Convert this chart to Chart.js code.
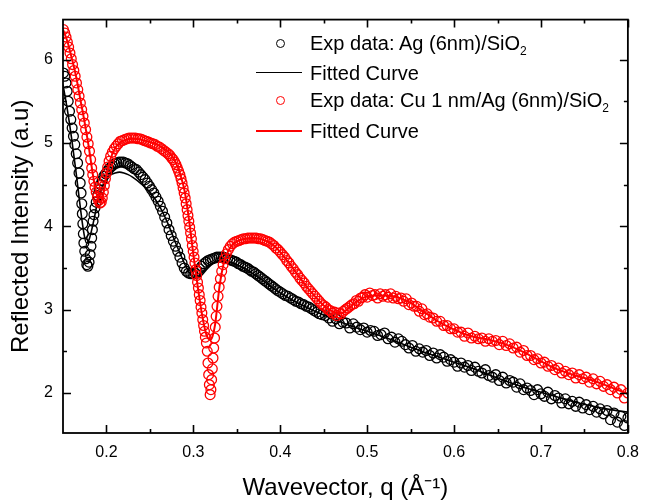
<!DOCTYPE html>
<html>
<head>
<meta charset="utf-8">
<script src="https://cdn.jsdelivr.net/npm/chart.js@4"></script>
<style>
  html,body{margin:0;padding:0;background:#fff;}
  #wrap{position:relative;width:649px;height:502px;}
  canvas{position:absolute;left:0;top:0;}
  .lg{position:absolute;font-family:'Liberation Sans',Arial,sans-serif;font-size:20px;line-height:20px;color:#000;white-space:nowrap;}
  .lg sub{font-size:12px;vertical-align:-5px;line-height:0;}
  .mk{position:absolute;box-sizing:border-box;border-radius:50%;width:9px;height:9px;}
  .ln{position:absolute;height:0;}
</style>
</head>
<body>
<div id="wrap">
  <canvas id="c" width="649" height="502"></canvas>
  <div id="legend"></div>
</div>
<script>
// ---- Data (q in Å^-1, reflected intensity in a.u.) ----
const xTickVals = [0.2, 0.3, 0.4, 0.5, 0.6, 0.7, 0.8];
const xMinorVals = [0.25, 0.35, 0.45, 0.55, 0.65, 0.75];
const yTickVals = [2, 3, 4, 5, 6];
const yMinorVals = [2.5, 3.5, 4.5, 5.5];

const seriesNames = ['Exp data: Ag (6nm)/SiO', 'Fitted Curve', 'Exp data: Cu 1 nm/Ag (6nm)/SiO', 'Fitted Curve'];
const xTitle = 'Wavevector, q (\u00C5\u207B\u00B9)';
const yTitle = 'Reflected Intensity (a.u)';

const agExp = [
[0.1505,5.84],[0.1520,5.80],[0.1535,5.72],[0.1548,5.62],[0.1560,5.50],[0.1575,5.38],[0.1590,5.28],[0.1605,5.18],[0.1620,5.08],[0.1636,4.98],
[0.1652,4.87],[0.1668,4.76],[0.1684,4.64],[0.1698,4.52],[0.1708,4.40],[0.1716,4.27],[0.1722,4.15],[0.1728,4.03],[0.1734,3.91],[0.1740,3.80],
[0.1750,3.70],[0.1762,3.61],[0.1774,3.54],[0.1786,3.52],
[0.1800,3.57],[0.1812,3.66],[0.1822,3.76],[0.1830,3.86],[0.1838,3.96],[0.1846,4.06],[0.1856,4.14],[0.1868,4.22],[0.1882,4.29],[0.1898,4.37],
[0.1915,4.44],[0.1932,4.50],[0.1950,4.55],[0.1970,4.60],[0.1990,4.63],[0.2010,4.66],[0.2030,4.69],[0.2050,4.71],[0.2070,4.73],[0.2095,4.75],
[0.2120,4.76],[0.2145,4.77],[0.2170,4.77],[0.2195,4.77],[0.2220,4.76],[0.2245,4.75],[0.2270,4.73],[0.2295,4.71],[0.2320,4.69],[0.2345,4.68],
[0.2370,4.65],[0.2395,4.62],[0.2420,4.59],[0.2445,4.56],[0.2470,4.52],[0.2495,4.48],[0.2520,4.44],[0.2545,4.40],[0.2570,4.35],[0.2595,4.30],
[0.2620,4.24],[0.2645,4.18],[0.2670,4.11],[0.2695,4.04],[0.2720,3.96],[0.2745,3.89],[0.2770,3.82],[0.2795,3.76],[0.2820,3.70],[0.2845,3.63],
[0.2870,3.56],[0.2895,3.50],[0.2920,3.46],[0.2945,3.44],[0.2970,3.43],[0.2995,3.43],[0.3020,3.44],[0.3045,3.46],[0.3070,3.49],[0.3095,3.52],
[0.3120,3.55],[0.3145,3.57],[0.3170,3.59],[0.3195,3.60],[0.3220,3.61],[0.3245,3.62],[0.3270,3.63],[0.3295,3.63],[0.3320,3.63],[0.3345,3.63],
[0.3370,3.62],[0.3395,3.61],[0.3420,3.60],[0.3445,3.59],[0.3470,3.58],[0.3495,3.57],[0.3520,3.55],[0.3545,3.54],[0.3570,3.52],[0.3595,3.51],
[0.3620,3.50],[0.3645,3.48],[0.3670,3.46],[0.3695,3.45],[0.3720,3.43],[0.3745,3.41],[0.3770,3.39],[0.3795,3.37],[0.3820,3.35],[0.3845,3.33],
[0.3870,3.31],[0.3895,3.29],[0.3920,3.27],[0.3945,3.25],[0.3970,3.23],[0.4000,3.21],[0.4030,3.19],[0.4060,3.17],[0.4090,3.16],[0.4120,3.14],
[0.4150,3.12],[0.4180,3.10],[0.4210,3.09],[0.4240,3.07],[0.4270,3.06],[0.4300,3.04],[0.4330,3.03],[0.4360,3.01],[0.4390,2.99],[0.4420,2.97],
[0.4450,2.95],[0.4480,2.94],
[0.452,2.93],[0.456,2.90],[0.460,2.86],[0.464,2.89],[0.468,2.83],[0.472,2.85],[0.476,2.84],[0.480,2.78],[0.484,2.83],[0.488,2.79],
[0.492,2.76],[0.496,2.78],[0.500,2.73],[0.504,2.75],[0.508,2.74],[0.512,2.69],[0.516,2.70],[0.520,2.72],[0.524,2.65],[0.528,2.67],
[0.532,2.61],[0.536,2.65],[0.540,2.62],[0.544,2.58],[0.548,2.54],[0.552,2.57],[0.556,2.50],[0.560,2.53],[0.564,2.49],[0.568,2.51],
[0.572,2.45],[0.576,2.48],[0.580,2.42],[0.584,2.46],[0.588,2.43],[0.592,2.38],[0.596,2.40],[0.600,2.37],[0.604,2.32],[0.608,2.36],
[0.612,2.31],[0.616,2.33],[0.620,2.27],[0.624,2.31],[0.628,2.26],[0.632,2.24],[0.636,2.28],[0.640,2.21],[0.644,2.19],[0.648,2.22],
[0.652,2.15],[0.656,2.19],[0.660,2.12],[0.664,2.15],[0.668,2.13],[0.672,2.07],[0.676,2.11],[0.680,2.04],[0.684,2.06],[0.688,2.03],
[0.692,1.98],[0.696,2.04],[0.700,1.99],[0.704,1.96],[0.708,2.01],[0.712,1.93],[0.716,1.97],[0.720,1.94],[0.724,1.88],[0.728,1.93],
[0.732,1.87],[0.736,1.90],[0.740,1.84],[0.744,1.89],[0.748,1.82],[0.752,1.86],[0.756,1.80],[0.760,1.84],[0.764,1.77],[0.768,1.81],
[0.772,1.75],[0.776,1.79],[0.780,1.68],[0.784,1.76],[0.788,1.65],[0.792,1.72],[0.796,1.61],[0.800,1.70]
];

const agFit = [
[0.150,5.70],[0.155,5.40],[0.160,5.05],[0.165,4.65],[0.170,4.22],[0.174,3.92],[0.177,3.80],[0.180,3.84],[0.185,4.05],[0.190,4.30],
[0.195,4.47],[0.200,4.57],[0.205,4.62],[0.210,4.64],[0.215,4.65],[0.220,4.64],[0.225,4.62],[0.230,4.59],[0.240,4.51],[0.250,4.41],
[0.260,4.26],[0.270,4.05],[0.280,3.79],[0.290,3.55],[0.295,3.45],[0.300,3.39],[0.305,3.38],[0.310,3.42],[0.315,3.48],[0.320,3.53],
[0.325,3.57],[0.330,3.59],[0.335,3.59],[0.340,3.58],[0.350,3.54],[0.360,3.49],[0.370,3.42],[0.380,3.35],[0.390,3.27],[0.400,3.20],
[0.420,3.08],[0.440,2.98],[0.460,2.89],[0.480,2.81],[0.500,2.74],[0.520,2.67],[0.540,2.59],[0.560,2.51],[0.580,2.44],[0.600,2.37],
[0.620,2.30],[0.640,2.22],[0.660,2.14],[0.680,2.07],[0.700,2.01],[0.720,1.95],[0.740,1.89],[0.760,1.84],[0.780,1.80],[0.800,1.77]
];

const cuExp = [
[0.1505,6.36],[0.1520,6.32],[0.1535,6.27],[0.1550,6.21],[0.1565,6.15],[0.1580,6.08],[0.1595,6.01],[0.1610,5.94],[0.1625,5.87],[0.1640,5.80],
[0.1655,5.72],[0.1670,5.64],[0.1685,5.56],[0.1700,5.48],[0.1715,5.40],[0.1730,5.32],[0.1745,5.24],[0.1760,5.16],[0.1775,5.07],[0.1790,4.99],
[0.1805,4.90],[0.1818,4.80],[0.1830,4.70],[0.1842,4.62],[0.1855,4.54],[0.1868,4.47],[0.1882,4.41],[0.1896,4.35],[0.1910,4.31],[0.1925,4.28],
[0.1940,4.29],[0.1952,4.34],[0.1964,4.41],[0.1976,4.49],[0.1988,4.57],[0.2000,4.64],[0.2014,4.71],[0.2030,4.78],[0.2048,4.84],[0.2068,4.89],
[0.2090,4.93],[0.2112,4.96],[0.2135,4.99],[0.2160,5.02],[0.2185,5.03],[0.2210,5.04],[0.2235,5.05],[0.2260,5.06],[0.2285,5.06],[0.2310,5.06],
[0.2335,5.06],[0.2360,5.05],[0.2385,5.05],[0.2410,5.04],[0.2435,5.03],[0.2460,5.02],[0.2485,5.01],[0.2510,5.00],[0.2535,4.99],[0.2560,4.98],
[0.2585,4.96],[0.2610,4.95],[0.2635,4.93],[0.2660,4.91],[0.2685,4.89],[0.2710,4.87],[0.2730,4.85],[0.2750,4.82],[0.2768,4.80],[0.2785,4.77],
[0.2800,4.74],[0.2815,4.70],[0.2830,4.66],[0.2845,4.62],[0.2858,4.57],[0.2870,4.52],[0.2882,4.46],[0.2894,4.40],[0.2906,4.34],[0.2917,4.27],
[0.2928,4.20],[0.2938,4.13],[0.2948,4.06],[0.2958,3.99],[0.2968,3.92],[0.2978,3.85],[0.2988,3.77],[0.2998,3.70],[0.3008,3.63],[0.3018,3.56],
[0.3028,3.48],[0.3038,3.41],[0.3048,3.33],[0.3058,3.26],[0.3068,3.18],[0.3078,3.11],[0.3088,3.03],[0.3098,2.96],[0.3108,2.88],[0.3118,2.81],
[0.3128,2.74],[0.3138,2.67],[0.3150,2.60],[0.3160,2.50],[0.3168,2.36],[0.3176,2.22],[0.3184,2.10],[0.3193,1.98],[0.3202,2.04],[0.3210,2.16],
[0.3218,2.29],[0.3226,2.42],[0.3234,2.54],[0.3244,2.66],[0.3252,2.79],[0.3262,2.92],[0.3272,3.04],[0.3284,3.16],[0.3297,3.27],[0.3311,3.37],
[0.3326,3.46],[0.3342,3.54],[0.3360,3.61],[0.3380,3.67],[0.3402,3.72],[0.3425,3.76],[0.3450,3.79],[0.3475,3.81],[0.3500,3.82],[0.3525,3.83],
[0.3550,3.84],[0.3575,3.85],[0.3600,3.85],[0.3625,3.86],[0.3650,3.86],[0.3675,3.86],[0.3700,3.86],[0.3725,3.86],[0.3750,3.85],[0.3775,3.85],
[0.3800,3.84],[0.3825,3.83],[0.3850,3.82],[0.3875,3.81],[0.3900,3.79],[0.3925,3.77],[0.3950,3.74],[0.3975,3.72],[0.4000,3.69],[0.4025,3.66],
[0.4050,3.63],[0.4075,3.59],[0.4100,3.56],[0.4125,3.52],[0.4150,3.49],[0.4175,3.45],[0.4200,3.42],[0.4225,3.38],[0.4250,3.35],[0.4275,3.32],
[0.4300,3.28],[0.4325,3.25],[0.4350,3.22],[0.4375,3.19],[0.4400,3.16],[0.4425,3.13],[0.4450,3.10],[0.4475,3.07],[0.4500,3.05],
[0.4525,3.03],[0.4550,3.00],[0.4575,2.99],[0.4600,2.96],[0.4625,2.97],[0.4650,2.93],[0.4675,2.96],[0.4700,2.95],[0.4725,2.98],[0.4750,3.00],
[0.4775,3.02],[0.4800,3.04],[0.4825,3.06],[0.4850,3.07],[0.4875,3.11],[0.4900,3.10],[0.4925,3.14],[0.4950,3.15],[0.4975,3.18],[0.5000,3.15],
[0.5030,3.20],[0.5060,3.17],[0.5090,3.18],[0.5120,3.14],[0.5150,3.19],[0.5180,3.16],[0.5210,3.18],[0.5240,3.15],[0.5270,3.19],[0.5300,3.14],
[0.5330,3.16],[0.5360,3.13],[0.5390,3.14],[0.5420,3.10],[0.5450,3.13],[0.5480,3.06],[0.5510,3.08],[0.5540,3.04],[0.5570,3.04],[0.5600,2.98],
[0.5630,3.01],[0.5660,2.94],[0.5690,2.95],[0.5720,2.91],[0.5760,2.90],[0.5800,2.86],[0.5840,2.86],[0.5880,2.81],[0.5920,2.81],[0.5960,2.77],
[0.6000,2.77],[0.6040,2.73],[0.6080,2.73],[0.6120,2.68],[0.6160,2.72],[0.6200,2.66],[0.6240,2.68],[0.6280,2.65],[0.6320,2.66],[0.6360,2.62],
[0.6400,2.65],[0.6440,2.62],[0.6480,2.63],[0.6520,2.58],[0.6560,2.62],[0.6600,2.57],[0.6640,2.59],[0.6680,2.54],[0.6720,2.55],[0.6760,2.49],
[0.6800,2.51],[0.6840,2.45],[0.6880,2.45],[0.6920,2.40],[0.6960,2.41],[0.7000,2.36],[0.7040,2.37],[0.7080,2.32],[0.7120,2.33],[0.7160,2.28],
[0.7200,2.30],[0.7240,2.24],[0.7280,2.26],[0.7320,2.22],[0.7360,2.24],[0.7400,2.18],[0.7440,2.22],[0.7480,2.17],[0.7520,2.19],[0.7560,2.13],
[0.7600,2.17],[0.7640,2.11],[0.7680,2.14],[0.7720,2.08],[0.7760,2.10],[0.7800,2.04],[0.7840,2.07],[0.7880,2.00],[0.7920,2.04],[0.7960,1.94],
[0.8000,2.00]
];

const cuFit = [
[0.150,6.36],[0.155,6.22],[0.160,6.02],[0.165,5.80],[0.170,5.52],[0.175,5.24],[0.180,4.93],[0.185,4.58],[0.190,4.34],[0.193,4.28],
[0.196,4.36],[0.200,4.62],[0.205,4.82],[0.210,4.94],[0.215,5.00],[0.220,5.03],[0.230,5.05],[0.240,5.04],[0.250,5.01],[0.260,4.97],
[0.268,4.92],[0.275,4.85],[0.280,4.76],[0.285,4.62],[0.290,4.42],[0.295,4.08],[0.300,3.66],[0.305,3.28],[0.310,2.94],[0.315,2.70],
[0.3195,2.64],[0.322,2.68],[0.325,2.82],[0.330,3.27],[0.335,3.56],[0.340,3.70],[0.345,3.78],[0.350,3.82],[0.360,3.85],[0.370,3.86],
[0.380,3.84],[0.390,3.79],[0.400,3.69],[0.410,3.56],[0.420,3.42],[0.430,3.28],[0.440,3.16],[0.450,3.05],[0.460,2.98],[0.466,2.96],
[0.470,2.96],[0.480,3.03],[0.490,3.11],[0.500,3.16],[0.510,3.17],[0.520,3.17],[0.530,3.16],[0.540,3.13],[0.550,3.08],[0.560,3.01],
[0.570,2.94],[0.580,2.87],[0.590,2.81],[0.600,2.76],[0.620,2.68],[0.640,2.64],[0.660,2.58],[0.680,2.49],[0.700,2.38],[0.720,2.28],
[0.740,2.21],[0.760,2.15],[0.780,2.07],[0.800,1.99]
];

// ---- Chart ----
const FONT = "'Liberation Sans', Arial, sans-serif";
const toPts = arr => arr.map(p => ({x: p[0], y: p[1]}));

const frameTicks = {
  id: 'frameTicks',
  afterDraw(chart) {
    const {ctx, chartArea: {left, right, top, bottom}, scales: {x, y}} = chart;
    ctx.save();
    ctx.strokeStyle = '#000';
    ctx.lineWidth = 1.6;
    ctx.beginPath();
    const seg = (x1, y1, x2, y2) => { ctx.moveTo(x1, y1); ctx.lineTo(x2, y2); };
    xTickVals.forEach(v => { const p = Math.round(x.getPixelForValue(v)) + 0.5; seg(p, bottom, p, bottom - 8); seg(p, top, p, top + 8); });
    xMinorVals.forEach(v => { const p = Math.round(x.getPixelForValue(v)) + 0.5; seg(p, bottom, p, bottom - 4); seg(p, top, p, top + 4); });
    yTickVals.forEach(v => { const p = Math.round(y.getPixelForValue(v)) + 0.5; seg(left, p, left + 8, p); seg(right, p, right - 8, p); });
    yMinorVals.forEach(v => { const p = Math.round(y.getPixelForValue(v)) + 0.5; seg(left, p, left + 4, p); seg(right, p, right - 4, p); });
    ctx.stroke();
    ctx.lineWidth = 1.8;
    ctx.strokeRect(left, top, right - left, bottom - top);
    ctx.restore();
  }
};

new Chart(document.getElementById('c'), {
  type: 'scatter',
  data: {
    datasets: [
      { label: seriesNames[0], data: toPts(agExp), showLine: false, pointStyle: 'circle', pointRadius: 4.9, borderWidth: 1.3, borderColor: '#000', backgroundColor: 'rgba(0,0,0,0)', order: 4 },
      { label: seriesNames[1], data: toPts(agFit), showLine: true, pointRadius: 0, borderWidth: 1.6, borderColor: '#000', cubicInterpolationMode: 'monotone', order: 3 },
      { label: seriesNames[2], data: toPts(cuExp), showLine: false, pointStyle: 'circle', pointRadius: 4.9, borderWidth: 1.3, borderColor: '#ff0000', backgroundColor: 'rgba(0,0,0,0)', order: 2 },
      { label: seriesNames[3], data: toPts(cuFit), showLine: true, pointRadius: 0, borderWidth: 2, borderColor: '#ff0000', cubicInterpolationMode: 'monotone', order: 1 }
    ]
  },
  options: {
    responsive: false,
    animation: false,
    events: [],
    layout: { padding: { top: 13, right: 12, left: 0, bottom: 0 } },
    plugins: { legend: { display: false }, tooltip: { enabled: false } },
    scales: {
      x: {
        type: 'linear', min: 0.15, max: 0.8,
        afterBuildTicks: s => { s.ticks = xTickVals.map(v => ({ value: v })); },
        afterFit: s => { s.height = 69; },
        grid: { display: false, drawTicks: false },
        border: { display: false },
        ticks: { padding: 10, color: '#000', font: { family: FONT, size: 16 }, maxRotation: 0, autoSkip: false, callback: v => v.toFixed(1) },
        title: { display: true, text: xTitle, color: '#000', font: { family: FONT, size: 24, lineHeight: 1 }, padding: { top: 0, bottom: 2 } }
      },
      y: {
        type: 'linear', min: 1.52, max: 6.48,
        afterBuildTicks: s => { s.ticks = yTickVals.map(v => ({ value: v })); },
        afterFit: s => { s.width = 63; },
        grid: { display: false, drawTicks: false },
        border: { display: false },
        ticks: { padding: 10, color: '#000', font: { family: FONT, size: 16 }, autoSkip: false, callback: v => String(v) },
        title: { display: true, text: yTitle, color: '#000', font: { family: FONT, size: 24, lineHeight: 1 }, padding: { top: 9, bottom: 0 } }
      }
    }
  },
  plugins: [frameTicks]
});

// ---- Legend (HTML overlay) ----
const legendRows = [
  { kind: 'mk', color: '#000', cy: 43, text: seriesNames[0], sub: '2' },
  { kind: 'ln', color: '#000', cy: 73, width: 1.6, text: seriesNames[1] },
  { kind: 'mk', color: '#ff0000', cy: 100, text: seriesNames[2], sub: '2' },
  { kind: 'ln', color: '#ff0000', cy: 131, width: 2.6, text: seriesNames[3] }
];
const wrapEl = document.getElementById('wrap');
legendRows.forEach(r => {
  if (r.kind === 'mk') {
    const m = document.createElement('div');
    m.className = 'mk';
    m.style.left = (280 - 4.5) + 'px';
    m.style.top = (r.cy - 4.5) + 'px';
    m.style.border = '1.3px solid ' + r.color;
    wrapEl.appendChild(m);
  } else {
    const l = document.createElement('div');
    l.className = 'ln';
    l.style.left = '256px';
    l.style.width = '46px';
    l.style.top = (r.cy - r.width / 2) + 'px';
    l.style.borderTop = r.width + 'px solid ' + r.color;
    wrapEl.appendChild(l);
  }
  const t = document.createElement('div');
  t.className = 'lg';
  t.style.left = '310px';
  t.style.top = (r.cy - 10) + 'px';
  t.textContent = r.text;
  if (r.sub) { const s = document.createElement('sub'); s.textContent = r.sub; t.appendChild(s); }
  wrapEl.appendChild(t);
});
</script>
</body>
</html>
